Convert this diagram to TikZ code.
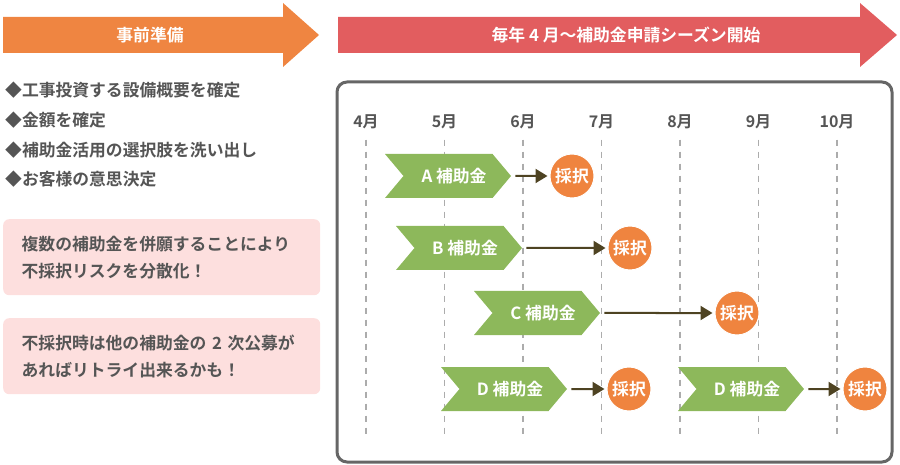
\documentclass[tikz,border=0pt]{standalone}
\usepackage{fontspec}
\setmainfont{Noto Sans CJK JP}[BoldFont={Noto Sans CJK JP Bold}]
\usetikzlibrary{shapes.symbols,arrows.meta,positioning}
\definecolor{prep}{HTML}{EF8541}
\definecolor{season}{HTML}{E25D5F}
\definecolor{grant}{HTML}{8DB85B}
\definecolor{adopt}{HTML}{EF843F}
\definecolor{memo}{HTML}{FDDFDE}
\definecolor{ink}{HTML}{555555}
\definecolor{framegray}{HTML}{666666}
\definecolor{flowbrown}{HTML}{4E4322}
\tikzset{
	x=1pt, y=-1pt,
	every node/.style={font=\fontsize{16.8}{27}\selectfont\bfseries},
	bartext/.style={text=white},
	item/.style={text=ink, anchor=west, inner sep=0pt},
	memobox/.style={fill=memo, rounded corners=6pt, text=ink, text width=280pt, align=left, inner xsep=18.5pt, minimum height=76pt, anchor=north west},
	month/.style={text=ink, font=\fontsize{16}{18}\selectfont\bfseries},
	grid/.style={draw=gray!65, dash pattern=on 6pt off 6pt, line width=1.2pt},
	grantbox/.style={signal, signal from=west, signal to=east, signal pointer angle=100, fill=grant, text=white, minimum width=126pt, minimum height=44pt, inner sep=0pt, execute at begin node=\hspace*{12pt}},
	adoptdot/.style={circle, fill=adopt, draw=white, line width=1pt, text=white, minimum size=44pt, inner sep=0pt},
	flow/.style={-{Triangle[length=12pt,width=14pt]}, draw=flowbrown, line width=2pt, shorten <=4pt, shorten >=2pt},
}

\begin{document}
\begin{tikzpicture}
	\useasboundingbox (0,0) rectangle (900,465);
	% phase arrows
	\fill[prep] (3,17) -- (283,17) -- (283,3) -- (319,35) -- (283,67) -- (283,53) -- (3,53) -- cycle;
	\fill[season] (338,17) -- (860,17) -- (860,3) -- (897,35) -- (860,67) -- (860,53) -- (338,53) -- cycle;
	\node[bartext] (prepLabel) at (150,35) {事前準備};
	\node[bartext] (seasonLabel) at (626,35) {毎年 4 月～補助金申請シーズン開始};

	% preparation list
	\node[item] (task1) at (5,90) {◆工事投資する設備概要を確定};
	\node[item] (task2) at (5,120) {◆金額を確定};
	\node[item] (task3) at (5,150) {◆補助金活用の選択肢を洗い出し};
	\node[item] (task4) at (5,179) {◆お客様の意思決定};

	\node[memobox] (memo1) at (3,219) {複数の補助金を併願することにより\\不採択リスクを分散化！};
	\node[memobox] (memo2) at (3,318) {不採択時は他の補助金の 2 次公募が\\あればリトライ出来るかも！};

	% schedule
	\draw[framegray, line width=3pt, rounded corners=10pt] (337,82) rectangle (892,462);
	\foreach \mon [count=\i from 0] in {4,...,10} {
		\node[month] (m\mon) at (366+78.5*\i,122) {{\mon}月};
		\coordinate (g\mon) at (366+78.5*\i,436);
		\draw[grid] ([yshift=-7pt]m\mon.south) -- (g\mon);
	}

	\node[grantbox] (A) at (448,176) {A 補助金};
	\node[grantbox] (B) at (459,248) {B 補助金};
	\node[grantbox] (C) at (537,313) {C 補助金};
	\node[grantbox] (D1) at (504,389) {D 補助金};
	\node[grantbox] (D2) at (741,389) {D 補助金};

	\node[adoptdot] (rA) at (572,176) {採択};
	\node[adoptdot] (rB) at (630,248) {採択};
	\node[adoptdot] (rC) at (737,313) {採択};
	\node[adoptdot] (rD1) at (629,389) {採択};
	\node[adoptdot] (rD2) at (865,389) {採択};

	\draw[flow] (A) -- (rA);
	\draw[flow] (B) -- (rB);
	\draw[flow] (C) -- (rC);
	\draw[flow] (D1) -- (rD1);
	\draw[flow] (D2) -- (rD2);
\end{tikzpicture}
\end{document}
